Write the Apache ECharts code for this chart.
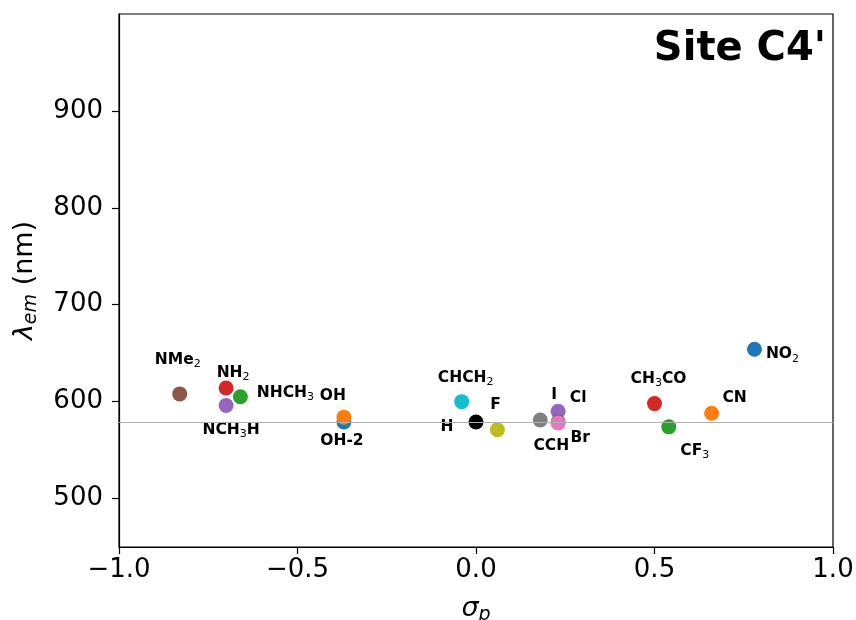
<!DOCTYPE html>
<html>
<head>
<meta charset="utf-8">
<script src="https://cdn.jsdelivr.net/npm/echarts@6/dist/echarts.min.js"></script>
<style>html,body{margin:0;padding:0;background:#fff}#c{width:856px;height:620px}</style>
</head>
<body>
<div id="c"></div>
<script>
// ---- data ----
const names   = ['NO{s|2}','CN','CF{s|3}','CH{s|3}CO','Cl','Br','I','CCH','F','CHCH{s|2}','H','OH-2','OH','NHCH{s|3}','NH{s|2}','NCH{s|3}H','NMe{s|2}'];
const sigmaP  = [0.78, 0.66, 0.54, 0.50, 0.23, 0.23, 0.23, 0.18, 0.06, -0.04, 0.00, -0.37, -0.37, -0.66, -0.70, -0.70, -0.83];
const lambdaEm= [654, 588, 574, 598, 590, 579, 578, 581, 571, 600, 579, 579, 584, 605, 614, 596, 608];
const colors  = ['#1f77b4','#ff7f0e','#2ca02c','#d62728','#9467bd','#8c564b','#e377c2','#7f7f7f','#bcbd22','#17becf','#000000','#1f77b4','#ff7f0e','#2ca02c','#d62728','#9467bd','#8c564b'];
// label offsets relative to marker centre (style)
const labelOffsets = [[28,5],[23,-15],[26,24],[4,-25],[20,-13],[22,16],[-4,-28],[11,26],[-2,-25],[4,-24],[-29,5],[-2,19],[-11,-21],[45,-4],[7,-15],[5,24],[-2,-34]];
const refLine = 579;
const yTicks = [500,600,700,800,900];
const titleText = "Site C4'";

const FONT = 'DejaVu Sans';
const chart = echarts.init(document.getElementById('c'));
const data = sigmaP.map((x,i)=>({
  value:[x, lambdaEm[i]],
  itemStyle:{color:colors[i],opacity:1},
  label:{show:true, formatter:names[i], position:'inside', offset:labelOffsets[i]}
}));
chart.setOption({
  animation:false,
  grid:{left:119,right:23,top:14,bottom:73,outerBoundsMode:'none',containLabel:false,show:true,borderColor:'#000',borderWidth:1.2,backgroundColor:'transparent'},
  xAxis:{type:'value',min:-1,max:1,interval:0.5,
    axisLine:{show:true,onZero:false,lineStyle:{color:'#000',width:1.2}},
    axisTick:{show:true,length:7,lineStyle:{color:'#000',width:1.2}},
    splitLine:{show:false},
    axisLabel:{color:'#000',fontFamily:FONT,fontSize:26,margin:10,
      formatter:v=>v.toFixed(1).replace('-','\u2212')},
    name:'{a|σ}{s|p}',nameLocation:'middle',nameGap:45,
    nameTextStyle:{rich:{a:{fontFamily:FONT,fontStyle:'italic',fontSize:27,color:'#000'},s:{fontFamily:FONT,fontStyle:'italic',fontSize:19,color:'#000',padding:[14,0,0,0]}}}
  },
  yAxis:{type:'value',min:450,max:1000,
    axisLine:{show:true,onZero:false,lineStyle:{color:'#000',width:1.2}},
    axisTick:{show:true,length:7,customValues:yTicks,lineStyle:{color:'#000',width:1.2}},
    splitLine:{show:false},
    axisLabel:{color:'#000',fontFamily:FONT,fontSize:26,margin:16,customValues:yTicks},
    name:'{a|λ}{s|em}{b| (nm)}',nameLocation:'middle',nameGap:78,nameRotate:90,
    nameTextStyle:{rich:{a:{fontFamily:FONT,fontStyle:'italic',fontSize:27,color:'#000'},b:{fontFamily:FONT,fontSize:27,color:'#000'},s:{fontFamily:FONT,fontStyle:'italic',fontSize:19,color:'#000',padding:[14,0,0,0]}}}
  },
  graphic:[{type:'text',right:30,top:30,style:{text:titleText,font:'bold 40px "DejaVu Sans"',fill:'#000'}}],
  series:[{type:'scatter',symbolSize:15,data:data,
    itemStyle:{opacity:1},
    label:{color:'#000',opacity:1,fontFamily:FONT,fontWeight:'bold',fontSize:15.5,
      rich:{s:{fontFamily:FONT,fontWeight:'normal',fontSize:11,color:'#000',padding:[9,0,0,0]}}},
    emphasis:{disabled:true},
    markLine:{silent:true,symbol:'none',label:{show:false},lineStyle:{color:'#b0b0b0',width:1.2,type:'solid',opacity:1},data:[{yAxis:refLine}]},
    z:3
  }]
});
</script>
</body>
</html>
